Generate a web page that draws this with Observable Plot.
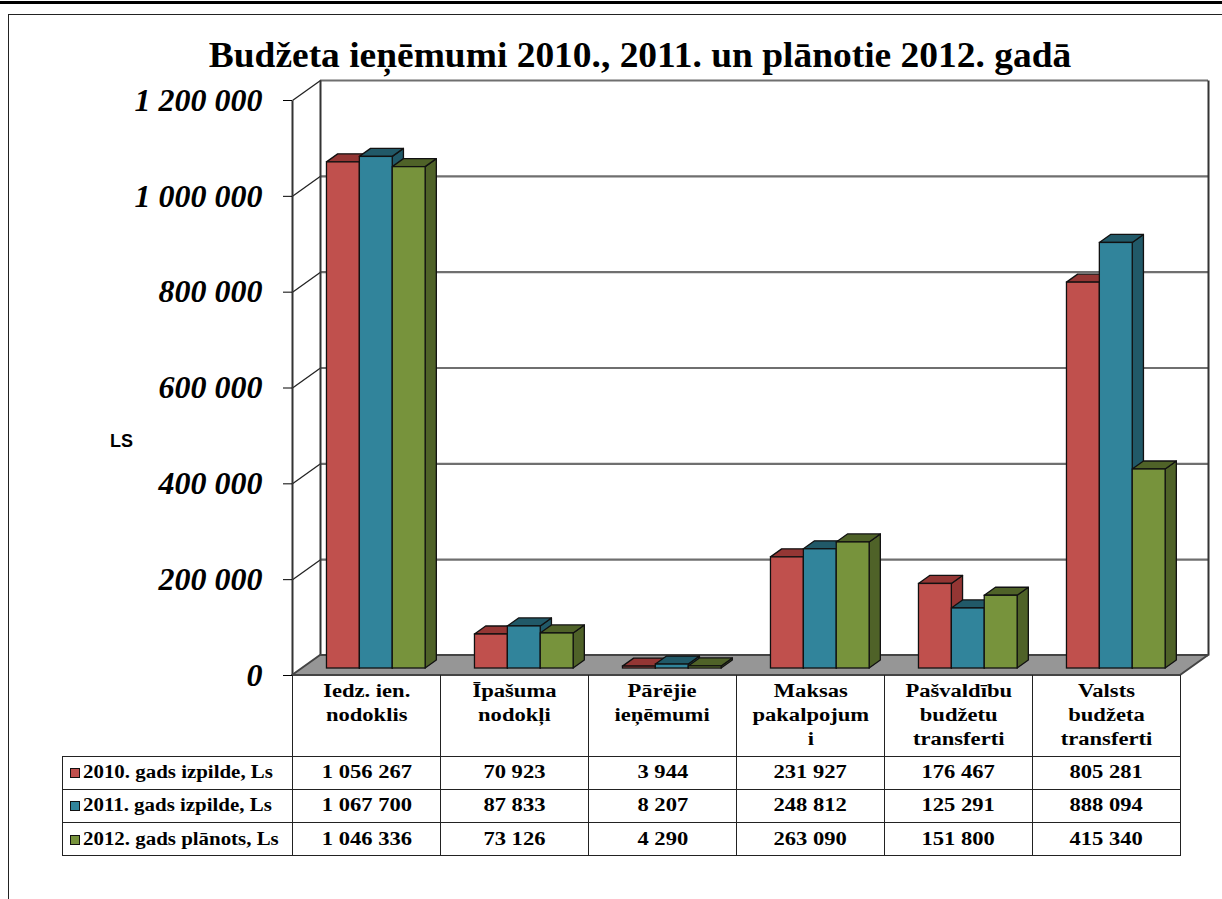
<!DOCTYPE html>
<html>
<head>
<meta charset="utf-8">
<script src="https://cdn.jsdelivr.net/npm/d3@7"></script>
<script src="https://cdn.jsdelivr.net/npm/@observablehq/plot@0.6"></script>
<style>
  html, body { margin: 0; padding: 0; background: #fff; overflow: hidden; }
  #wrap { position: relative; width: 1222px; height: 899px; }
  .abs { position: absolute; }
  #topline { left: 0; top: 1px; width: 1222px; height: 3px; background: #000; }
  #frame { left: 8px; top: 14px; width: 1230px; height: 900px; border-left: 1px solid #222; border-top: 1px solid #222; }
  #title { left: 0; top: 38px; width: 1280px; text-align: center; font: bold 35px/35px "Liberation Serif", serif; color: #000; white-space: nowrap; transform: scaleX(1.07); transform-origin: 640px 0; }
  #ylab { left: 110px; top: 430px; font: bold 18px/22px "Liberation Sans", sans-serif; }
  #chart { left: 0; top: 0; }
  table { position: absolute; border-collapse: collapse; table-layout: fixed; font: bold 18.5px "Liberation Serif", serif; color: #000; }
  td { border: 1px solid #222; padding: 0; text-align: center; }
  td.hdr { border-top: none; vertical-align: top; line-height: 24px; padding-top: 4px; }
  td.blank { border: none; }
  td.leg { text-align: left; padding-left: 7px; white-space: nowrap; }
  td.val { vertical-align: middle; }
  .sx { display: inline-block; transform: scaleX(1.22); transform-origin: 50% 50%; white-space: nowrap; }
  .sxl { display: inline-block; transform: scaleX(1.13); transform-origin: 0 50%; white-space: nowrap; }
  .sw { display: inline-block; width: 8px; height: 8px; border: 1.6px solid #111; margin-right: 3px; vertical-align: 0px; }
</style>
</head>
<body>
<div id="wrap">
  <div id="topline" class="abs"></div>
  <div id="frame" class="abs"></div>
  <div id="chart" class="abs"></div>
  <div id="title" class="abs">Budžeta ieņēmumi 2010., 2011. un plānotie 2012. gadā</div>
  <div id="ylab" class="abs">LS</div>
</div>
<script>
// ---------- data ----------
const categoryLines = [
  ["Iedz. ien.", "nodoklis"],
  ["Īpašuma", "nodokļi"],
  ["Pārējie", "ieņēmumi"],
  ["Maksas", "pakalpojum", "i"],
  ["Pašvaldību", "budžetu", "transferti"],
  ["Valsts", "budžeta", "transferti"]
];
const seriesNames = ["2010. gads izpilde, Ls", "2011. gads izpilde, Ls", "2012. gads plānots, Ls"];
const v2010 = [1056267, 70923, 3944, 231927, 176467, 805281];
const v2011 = [1067700, 87833, 8207, 248812, 125291, 888094];
const v2012 = [1046336, 73126, 4290, 263090, 151800, 415340];
const yTicks = [0, 200000, 400000, 600000, 800000, 1000000, 1200000];
const frontColors = ["#C0504D", "#31849B", "#77933C"];
const darkColors = ["#943634", "#215968", "#4F6228"];

// ---------- layout ----------
const W = 1222, H = 899;
const mL = 292, mR = 42, mT = 100, mB = 224;
const nCat = categoryLines.length;
const yMax = yTicks[yTicks.length - 1];
const slotPx = (W - mL - mR) / nCat;
const pxPerVal = (H - mT - mB) / yMax;
const DX = 28 / slotPx;          // depth offset in slot units
const DY = 20 / pxPerVal;        // depth offset in value units
const d1 = 0.35, d2 = 0.75;      // bar front / back depth
const BAR = 1 / 4.5, OFF = 0.75 * BAR;

const seriesValues = [v2010, v2011, v2012];
const bars = [];
categoryLines.forEach((c, i) => seriesValues.forEach((vals, j) => {
  const x0 = i + OFF + j * BAR;
  bars.push({key: i + "-" + j, j, x0, x1: x0 + BAR, v: vals[i]});
}));

const fronts = bars.map(b => ({
  x1: b.x0 + d1 * DX, x2: b.x1 + d1 * DX, y1: d1 * DY, y2: b.v + d1 * DY, fill: frontColors[b.j]
}));
const tops = bars.flatMap(b => [d1, d2].map(d => ({
  key: b.key, y: b.v + d * DY, x1: b.x0 + d * DX, x2: b.x1 + d * DX, fill: darkColors[b.j]
})));
const sides = bars.flatMap(b => [d1, d2].map(d => ({
  key: b.key, x: b.x1 + d * DX, y1: d * DY, y2: b.v + d * DY, fill: darkColors[b.j]
})));

const floor = [{y: 0, x1: 0, x2: nCat}, {y: DY, x1: DX, x2: nCat + DX}];
const leftWall = [{x: 0, y1: 0, y2: yMax}, {x: DX, y1: DY, y2: yMax + DY}];
const backWall = [{x1: DX, x2: nCat + DX, y1: DY, y2: yMax + DY}];
const edges = [
  {x1: 0, y1: 0, x2: 0, y2: yMax},
  {x1: DX, y1: DY, x2: DX, y2: yMax + DY},
  {x1: nCat + DX, y1: DY, x2: nCat + DX, y2: yMax + DY}
];

const loc = d3.formatLocale({decimal: ",", thousands: " ", grouping: [3], currency: ["", ""]});
const fmt = loc.format(",d");

const chart = Plot.plot({
  width: W, height: H,
  marginLeft: mL, marginRight: mR, marginTop: mT, marginBottom: mB,
  style: {background: "transparent", overflow: "visible"},
  x: {domain: [0, nCat], axis: null},
  y: {domain: [0, yMax]},
  color: {type: "identity"},
  marks: [
    Plot.rect(backWall, {x1: "x1", x2: "x2", y1: "y1", y2: "y2", fill: "white"}),
    Plot.areaY(leftWall, {x: "x", y1: "y1", y2: "y2", fill: "white"}),
    Plot.ruleY(yTicks, {y: d => d + DY, x1: DX, x2: nCat + DX, stroke: "#6f6f6f", strokeWidth: 2.2}),
    Plot.link(yTicks, {x1: 0, y1: d => d, x2: DX, y2: d => d + DY, stroke: "#222", strokeWidth: 1.3}),
    Plot.link(edges, {x1: "x1", y1: "y1", x2: "x2", y2: "y2", stroke: "#333", strokeWidth: 2}),
    Plot.areaX(floor, {y: "y", x1: "x1", x2: "x2", fill: "#969696", stroke: "#444", strokeWidth: 2}),
    Plot.areaY(sides, {x: "x", y1: "y1", y2: "y2", z: "key", fill: "fill", stroke: "#111", strokeWidth: 1.3, strokeLinejoin: "round"}),
    Plot.areaX(tops, {y: "y", x1: "x1", x2: "x2", z: "key", fill: "fill", stroke: "#111", strokeWidth: 1.3, strokeLinejoin: "round"}),
    Plot.rect(fronts, {x1: "x1", x2: "x2", y1: "y1", y2: "y2", fill: "fill", stroke: "#111", strokeWidth: 1.3}),
    Plot.axisY({ticks: yTicks, tickFormat: fmt, tickSize: 9, tickPadding: 21, stroke: "#000",
      fontSize: 32, fontWeight: "bold", fontStyle: "italic", fontFamily: "Liberation Serif", label: null})
  ]
});
document.getElementById("chart").appendChild(chart);

// ---------- data table ----------
const xs = chart.scale("x");
const colX = d3.range(nCat + 1).map(i => xs.apply(i));
const legendLeft = 62;
const tbl = document.createElement("table");
tbl.style.left = legendLeft + "px";
tbl.style.top = (H - mB) + "px";
tbl.style.width = (colX[nCat] - legendLeft) + "px";
const cg = document.createElement("colgroup");
[colX[0] - legendLeft, ...d3.range(nCat).map(i => colX[i + 1] - colX[i])].forEach(w => {
  const c = document.createElement("col"); c.style.width = w + "px"; cg.appendChild(c);
});
tbl.appendChild(cg);
const hr = tbl.insertRow();
hr.style.height = "81px";
const blank = hr.insertCell(); blank.className = "blank";
categoryLines.forEach(lines => {
  const td = hr.insertCell(); td.className = "hdr";
  const s = document.createElement("span"); s.className = "sx";
  s.innerHTML = lines.join("<br>");
  td.appendChild(s);
});
seriesNames.forEach((name, j) => {
  const tr = tbl.insertRow();
  tr.style.height = "33.3px";
  const lc = tr.insertCell(); lc.className = "leg";
  const sw = document.createElement("span"); sw.className = "sw"; sw.style.background = frontColors[j];
  const ls = document.createElement("span"); ls.className = "sxl"; ls.textContent = name;
  lc.appendChild(sw); lc.appendChild(ls);
  seriesValues[j].forEach(v => {
    const td = tr.insertCell(); td.className = "val";
    const s = document.createElement("span"); s.className = "sx"; s.textContent = fmt(v);
    td.appendChild(s);
  });
});
document.getElementById("wrap").appendChild(tbl);
</script>
</body>
</html>
